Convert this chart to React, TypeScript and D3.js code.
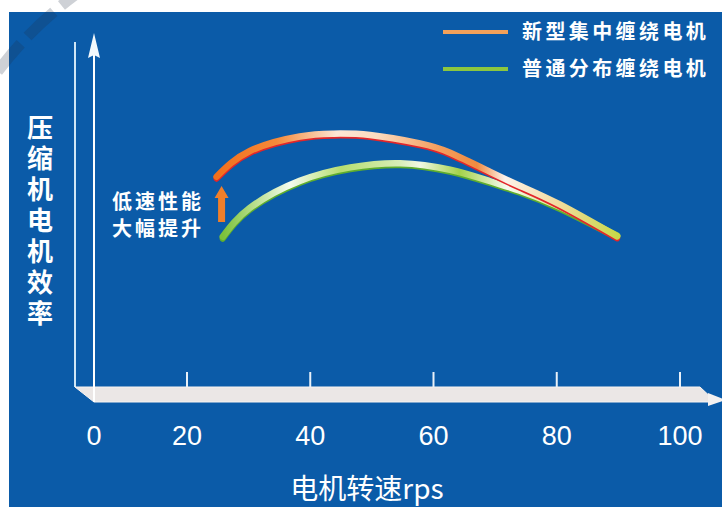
import { useEffect, useRef } from 'react';
import * as d3 from 'd3';

// x axis: motor speed (rps); y axis has no numbers, efficiency in relative units
const speedTicks = [0, 20, 40, 60, 80, 100];
const newSpeed = [24.8, 30.2, 38.3, 43.7, 49.7, 57.8, 62.7, 69.2, 74.0, 80.5, 89.8];
const newEff = [60.6, 68.0, 72.2, 73.0, 72.6, 70.2, 67.5, 62.0, 58.0, 52.6, 43.4];
const oldSpeed = [25.8, 30.2, 38.3, 46.5, 54.6, 62.7, 69.2, 74.0, 80.5, 89.8];
const oldEff = [43.3, 51.6, 59.4, 63.3, 64.5, 62.6, 59.3, 56.6, 51.9, 43.6];
const seriesNames = ['新型集中缠绕电机', '普通分布缠绕电机'];
const yTitle = '压缩机电机效率';
const xTitle = '电机转速rps';
const noteLines = ['低速性能', '大幅提升'];

const CJK = '"Noto Sans CJK SC", "Noto Sans", sans-serif';
const NUM = '"Liberation Sans", Arial, sans-serif';

const App = () => {
  const ref = useRef<SVGSVGElement>(null);

  useEffect(() => {
    if (!ref.current) return;
    const W = 722;
    const H = 507;
    const svg = d3.select(ref.current);
    svg.selectAll('*').remove();

    // the picture's axis is not to scale: 0 sits at the y axis
    const x = d3.scaleLinear().domain([0, 20, 100]).range([94, 187, 680]);
    const y = d3.scaleLinear().domain([0, 100]).range([387, 40]);
    const x0 = x(0);
    const y0 = y(0);

    const defs = svg.append('defs');
    const grad = (id: string, stops: [number, string][], from: number, to: number) => {
      const g = defs.append('linearGradient')
        .attr('id', id)
        .attr('gradientUnits', 'userSpaceOnUse')
        .attr('x1', from).attr('x2', to).attr('y1', 0).attr('y2', 0);
      stops.forEach(([o, c]) => g.append('stop').attr('offset', o).attr('stop-color', c));
    };
    grad('gNew', [
      [0, '#f26f1c'], [0.15, '#f58a3a'], [0.3, '#fde6d4'], [0.4, '#fcdcc0'],
      [0.55, '#f4a060'], [0.65, '#f08a40'], [0.72, '#fdf2ea'], [0.85, '#f2dca0'], [1, '#c8d84a'],
    ], x(newSpeed[0]), x(newSpeed[newSpeed.length - 1]));
    grad('gOld', [
      [0, '#7cc23a'], [0.1, '#c6e6a0'], [0.17, '#f4fbee'], [0.3, '#b6de70'], [0.45, '#d8eeb8'],
      [0.5, '#f0f8e4'], [0.6, '#a4d24a'], [0.72, '#f6fbf0'], [0.85, '#dfe58e'], [1, '#b8d840'],
    ], x(oldSpeed[0]), x(oldSpeed[oldSpeed.length - 1]));

    // page and panel
    svg.append('rect').attr('width', W).attr('height', H).attr('fill', '#ffffff');
    svg.append('rect').attr('x', 9).attr('y', 12).attr('width', W - 9).attr('height', H - 12).attr('fill', '#0b5ba8');

    // dashed decorative arc at the top left
    const cx = 300, cy = 300, r = 379;
    const arcPath = d3.path();
    arcPath.arc(cx, cy, r, Math.atan2(95 - cy, -25 - cx), Math.atan2(-20 - cy, 75 - cx), false);
    svg.append('path')
      .attr('d', arcPath.toString())
      .attr('fill', 'none')
      .attr('stroke', 'rgba(30,45,70,0.22)')
      .attr('stroke-width', 11)
      .attr('stroke-dasharray', '36 10')
      .attr('stroke-dashoffset', 14);

    // back vertical line
    svg.append('line')
      .attr('x1', x0 - 19).attr('x2', x0 - 19)
      .attr('y1', y(100) + 2).attr('y2', y0)
      .attr('stroke', '#cfe6f6').attr('stroke-width', 2);

    // floor slab
    const slabR = x(100) + 20;
    svg.append('polygon')
      .attr('points', [
        [x0 - 19, y0], [slabR, y0], [slabR + 16, y0 + 15], [x0, y0 + 15],
      ].map(p => p.join(',')).join(' '))
      .attr('fill', '#ebe7e6')
      .attr('stroke', '#f7f4f2').attr('stroke-width', 1);
    svg.append('polygon')
      .attr('points', [[slabR + 8, y0 + 6], [W + 4, y0 + 13], [slabR + 8, y0 + 19]].map(p => p.join(',')).join(' '))
      .attr('fill', '#f4f1f0');

    // ticks
    svg.selectAll('.tick')
      .data(speedTicks.filter(d => d > 0))
      .enter()
      .append('line')
      .attr('x1', d => x(d)).attr('x2', d => x(d))
      .attr('y1', y0 - 15).attr('y2', y0)
      .attr('stroke', '#e8f0f8').attr('stroke-width', 2);

    // main y axis with arrow
    svg.append('line')
      .attr('x1', x0).attr('x2', x0)
      .attr('y1', y0 + 15).attr('y2', 55)
      .attr('stroke', '#ffffff').attr('stroke-width', 2);
    svg.append('polygon')
      .attr('points', [[x0, 33], [x0 - 6, 58], [x0, 55], [x0 + 6, 58]].map(p => p.join(',')).join(' '))
      .attr('fill', '#f2f8fc');

    // tick labels
    svg.selectAll('.tlabel')
      .data(speedTicks)
      .enter()
      .append('text')
      .attr('x', d => x(d))
      .attr('y', 445)
      .attr('text-anchor', 'middle')
      .attr('fill', '#ffffff')
      .style('font-family', NUM)
      .style('font-size', '27px')
      .text(d => d);

    // x title
    svg.append('text')
      .attr('x', 367).attr('y', 499)
      .attr('text-anchor', 'middle')
      .attr('fill', '#ffffff')
      .style('font-family', CJK)
      .style('font-size', '28px')
      .text(xTitle);

    // y title, written top to bottom
    svg.append('text')
      .attr('x', 40)
      .attr('y', 114)
      .attr('fill', '#ffffff')
      .style('writing-mode', 'vertical-rl')
      .style('text-orientation', 'upright')
      .style('font-family', CJK)
      .style('font-size', '26px')
      .style('font-weight', 'bold')
      .style('letter-spacing', '5px')
      .text(yTitle);

    // curves
    const line = d3.line<[number, number]>()
      .x(d => x(d[0]))
      .y(d => y(d[1]))
      .curve(d3.curveNatural);
    const newPts = newSpeed.map((s, i) => [s, newEff[i]] as [number, number]);
    const oldPts = oldSpeed.map((s, i) => [s, oldEff[i]] as [number, number]);

    const drawCurve = (pts: [number, number][], under: string, gid: string) => {
      svg.append('path')
        .attr('d', line(pts))
        .attr('transform', 'translate(0,2)')
        .attr('fill', 'none')
        .attr('stroke', under)
        .attr('stroke-width', 6)
        .attr('stroke-linecap', 'round');
      svg.append('path')
        .attr('d', line(pts))
        .attr('fill', 'none')
        .attr('stroke', `url(#${gid})`)
        .attr('stroke-width', 6.5)
        .attr('stroke-linecap', 'round');
    };
    drawCurve(oldPts, '#5fae2e', 'gOld');
    drawCurve(newPts, '#e3262a', 'gNew');

    // annotation arrow and text
    const ax = x(newSpeed[0]) + 5;
    svg.append('polygon')
      .attr('points', [
        [ax, 186], [ax - 7, 198], [ax - 3.5, 198], [ax - 3.5, 222], [ax + 3.5, 222], [ax + 3.5, 198], [ax + 7, 198],
      ].map(p => p.join(',')).join(' '))
      .attr('fill', '#f07f2a');
    svg.selectAll('.note')
      .data(noteLines)
      .enter()
      .append('text')
      .attr('x', 112)
      .attr('y', (_, i) => 209 + i * 27)
      .attr('fill', '#ffffff')
      .style('font-family', CJK)
      .style('font-size', '20px')
      .style('font-weight', 'bold')
      .style('letter-spacing', '3px')
      .text(d => d);

    // legend
    const legendColors = ['#f3a15a', '#8cc63f'];
    seriesNames.forEach((name, i) => {
      const ly = 32 + i * 37;
      svg.append('line')
        .attr('x1', 443).attr('x2', 508)
        .attr('y1', ly).attr('y2', ly)
        .attr('stroke', legendColors[i]).attr('stroke-width', 4);
      svg.append('text')
        .attr('x', 522).attr('y', ly + 7)
        .attr('fill', '#ffffff')
        .style('font-family', CJK)
        .style('font-size', '20px')
        .style('font-weight', 'bold')
        .style('letter-spacing', '3.4px')
        .text(name);
    });
  }, []);

  return (
    <svg
      ref={ref}
      width={722}
      height={507}
      style={{ position: 'absolute', left: 0, top: 0, display: 'block' }}
    />
  );
};

export default App;
